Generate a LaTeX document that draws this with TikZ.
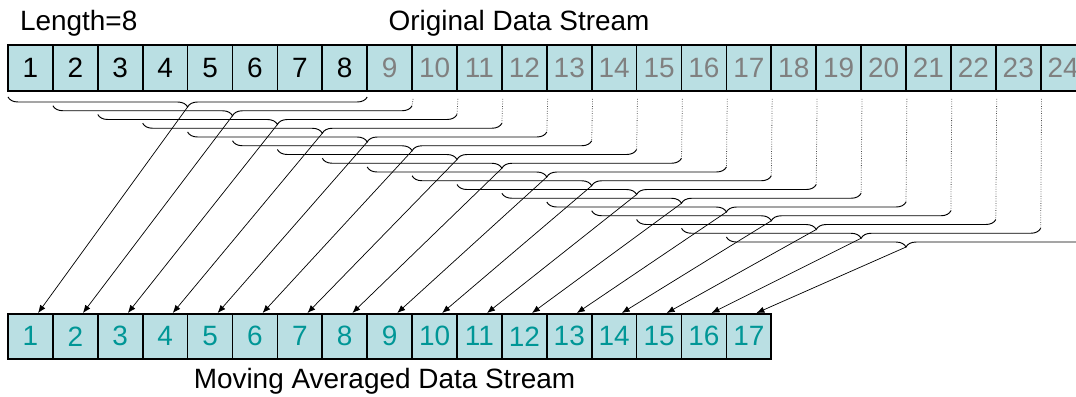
\documentclass[tikz,border=0pt]{standalone}
\usepackage{fontspec}
\setmainfont{Liberation Sans}
\usepackage{xcolor}
\usepackage{tikz}
\usetikzlibrary{decorations.pathreplacing,arrows.meta}

\definecolor{cellfill}{RGB}{186,223,227}
\definecolor{futuregray}{RGB}{128,128,128}
\definecolor{avgteal}{RGB}{0,150,150}

\begin{document}
\begin{tikzpicture}
    % Define node styles
    \tikzstyle{cell} = [draw, line width=1.1pt, fill=cellfill, minimum width=1cm, minimum height=1.02cm, inner sep=0pt, font=\fontsize{17.7}{20}\selectfont]
    \tikzstyle{title} = [inner sep=0pt, font=\fontsize{17.7}{20}\selectfont]
    \tikzstyle{window} = [decorate, decoration={brace, mirror, amplitude=0.223cm}, line width=0.6pt]
    \tikzstyle{feed} = [densely dotted, line width=0.5pt, black!70]
    \tikzstyle{edge} = [-{Latex[length=5pt,width=4pt]}, line width=0.45pt]

    \useasboundingbox (0,0) rectangle (23.964,-8.82);
    \clip (0,0) rectangle (23.964,-8.82);

    % Original data stream (first window in black, the rest in gray)
    \foreach \i in {1,...,8}
        \node[cell] (t\i) at (\i-0.322,-1.514) {\i};
    \foreach \i in {9,...,24}
        \node[cell, text=futuregray] (t\i) at (\i-0.322,-1.514) {\i};

    % Moving averaged data stream
    \foreach \i in {1,...,17}
        \node[cell, text=avgteal, minimum height=1cm] (b\i) at (\i-0.322,-7.49) {\i};

    % Windows of length 8 and their averages
    \foreach \i in {1,...,17} {
        \pgfmathsetmacro{\ylev}{-2.16-(\i-1)*0.1949}
        \coordinate (wl\i) at (\i-0.822,\ylev);
        \coordinate (wr\i) at (\i+7.178,\ylev);
        \coordinate (tip\i) at (\i+3.178,\ylev-0.223);
        \draw[window] (wl\i) -- (wr\i);
        \draw[edge] (tip\i) -- ([xshift=0.17cm]b\i.north);
    }

    % Drop lines from the last sample of each window
    \foreach \i [evaluate=\i as \j using int(\i+7)] in {2,...,17}
        \draw[feed] ([yshift=-0.16cm]t\j.south east) -- (wr\i);

    % Labels
    \node[title, anchor=base west] (len) at (0.44,-0.668) {Length=8};
    \node[title, anchor=base] (orig) at (11.56,-0.69) {Original Data Stream};
    \node[title, anchor=base] (avg) at (8.563,-8.641) {Moving Averaged Data Stream};
\end{tikzpicture}
\end{document}
